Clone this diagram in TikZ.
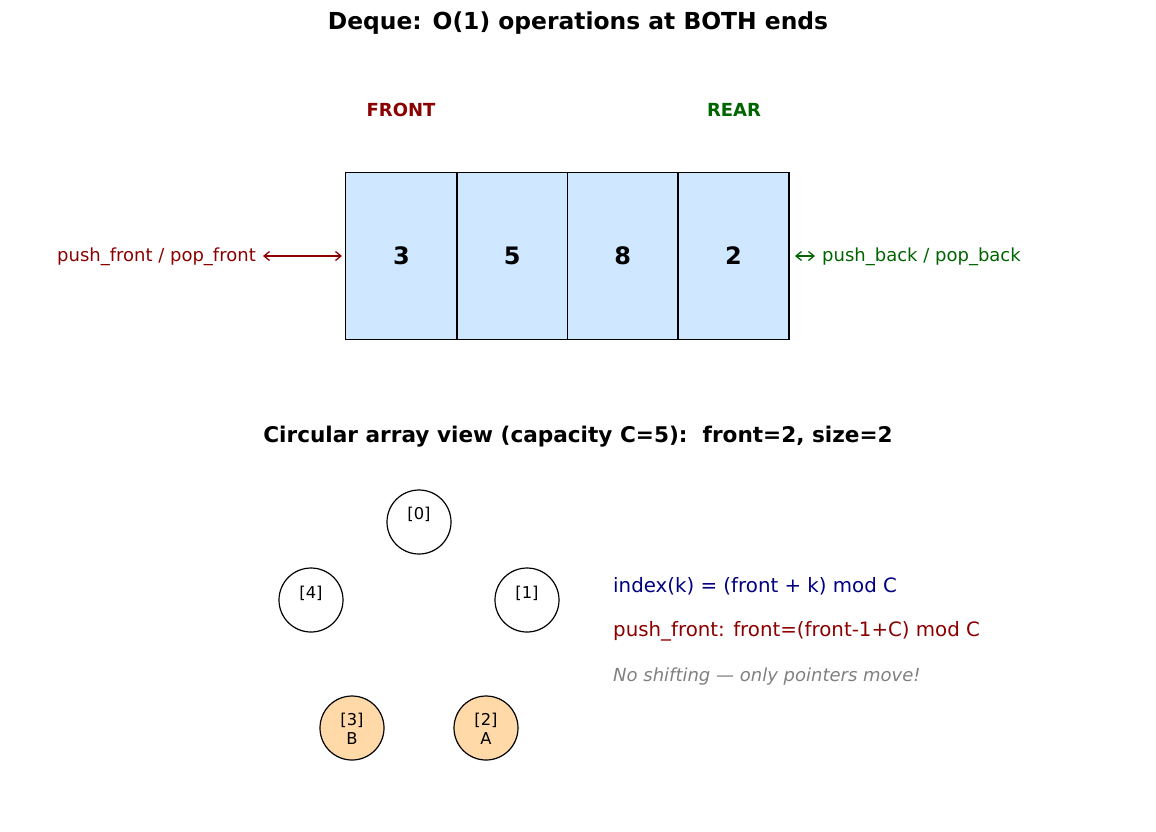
\documentclass[tikz,border=0pt]{standalone}
\usepackage{fontspec}
\setmainfont{DejaVu Sans}
\usetikzlibrary{arrows.meta}
\definecolor{cellblue}{RGB}{208,232,255}
\definecolor{slotorange}{RGB}{255,217,168}
\definecolor{fred}{RGB}{139,0,0}
\definecolor{rgreen}{RGB}{0,100,0}
\definecolor{inavy}{RGB}{0,0,128}
\definecolor{ngray}{RGB}{128,128,128}
\tikzset{
  cell/.style={fill=cellblue, minimum width=110.75pt, minimum height=166pt, inner sep=0pt, font=\fontsize{24}{28}\selectfont\bfseries},
  cellborder/.style={draw=black, line width=1.3pt},
  slot/.style={circle, draw=black, line width=1.2pt, minimum size=64pt, inner sep=0pt},
  slotfill/.style={slot, fill=slotorange},
  slottext/.style={font=\fontsize{16.3}{18.5}\selectfont, align=center, inner sep=0pt},
  endlabel/.style={font=\fontsize{18}{22}\selectfont\bfseries},
  oplabel/.style={font=\fontsize{18}{22}\selectfont},
  dbl/.style={{Straight Barb[length=5.5pt,width=9pt]}-{Straight Barb[length=5.5pt,width=9pt]}, line width=1.3pt},
  formula/.style={font=\fontsize{19.8}{24}\selectfont, anchor=west, inner sep=0pt}
}
\begin{document}
\begin{tikzpicture}[x=1pt,y=-1pt]
\useasboundingbox (0,0) rectangle (1156,831);
\node[font=\fontsize{23.4}{28}\selectfont\bfseries] (title) at (578,23) {Deque: O(1) operations at BOTH ends};
\node[endlabel, text=fred] (front) at (401,110) {FRONT};
\node[endlabel, text=rgreen] (rear) at (734,110) {REAR};
\node[cell] (c0) at (401.4,256) {3};
\node[cell] (c1) at (512.1,256) {5};
\node[cell] (c2) at (622.8,256) {8};
\node[cell] (c3) at (733.5,256) {2};
\foreach \c in {c0,c1,c2,c3} {
  \draw[cellborder] (\c.north west) rectangle (\c.south east);
}
\node[oplabel, text=fred, anchor=east, inner sep=0pt] (pf) at (256,257) {push\_front / pop\_front};
\coordinate (pfa) at (263,256);
\coordinate (pfb) at (342,256);
\draw[dbl, draw=fred] (pfa) -- (pfb);
\coordinate (pba) at (795,256);
\coordinate (pbb) at (815,256);
\draw[dbl, draw=rgreen] (pba) -- (pbb);
\node[oplabel, text=rgreen, anchor=west, inner sep=0pt] (pb) at (822,257) {push\_back / pop\_back};
\node[font=\fontsize{21.6}{26}\selectfont\bfseries] (ctitle) at (578,437) {Circular array view (capacity C=5):\ \ front=2, size=2};
\node[slot] (s0) at (419,522) {};
\node[slottext] (t0) at (419,514) {[0]};
\node[slot] (s1) at (527,600) {};
\node[slottext] (t1) at (527,593) {[1]};
\node[slot] (s4) at (311,600) {};
\node[slottext] (t4) at (311,593) {[4]};
\node[slotfill] (s3) at (352,728) {};
\node[slottext] (t3) at (352,729) {[3]\\B};
\node[slotfill] (s2) at (486,728) {};
\node[slottext] (t2) at (486,729) {[2]\\A};
\node[formula, text=inavy] (f1) at (613,586) {index(k) = (front + k) mod C};
\node[formula, text=fred] (f2) at (613,631) {push\_front: front=(front-1+C) mod C};
\node[formula, text=ngray, font=\fontsize{18}{22}\selectfont\itshape] (f3) at (613,677) {No shifting — only pointers move!};
\end{tikzpicture}
\end{document}
